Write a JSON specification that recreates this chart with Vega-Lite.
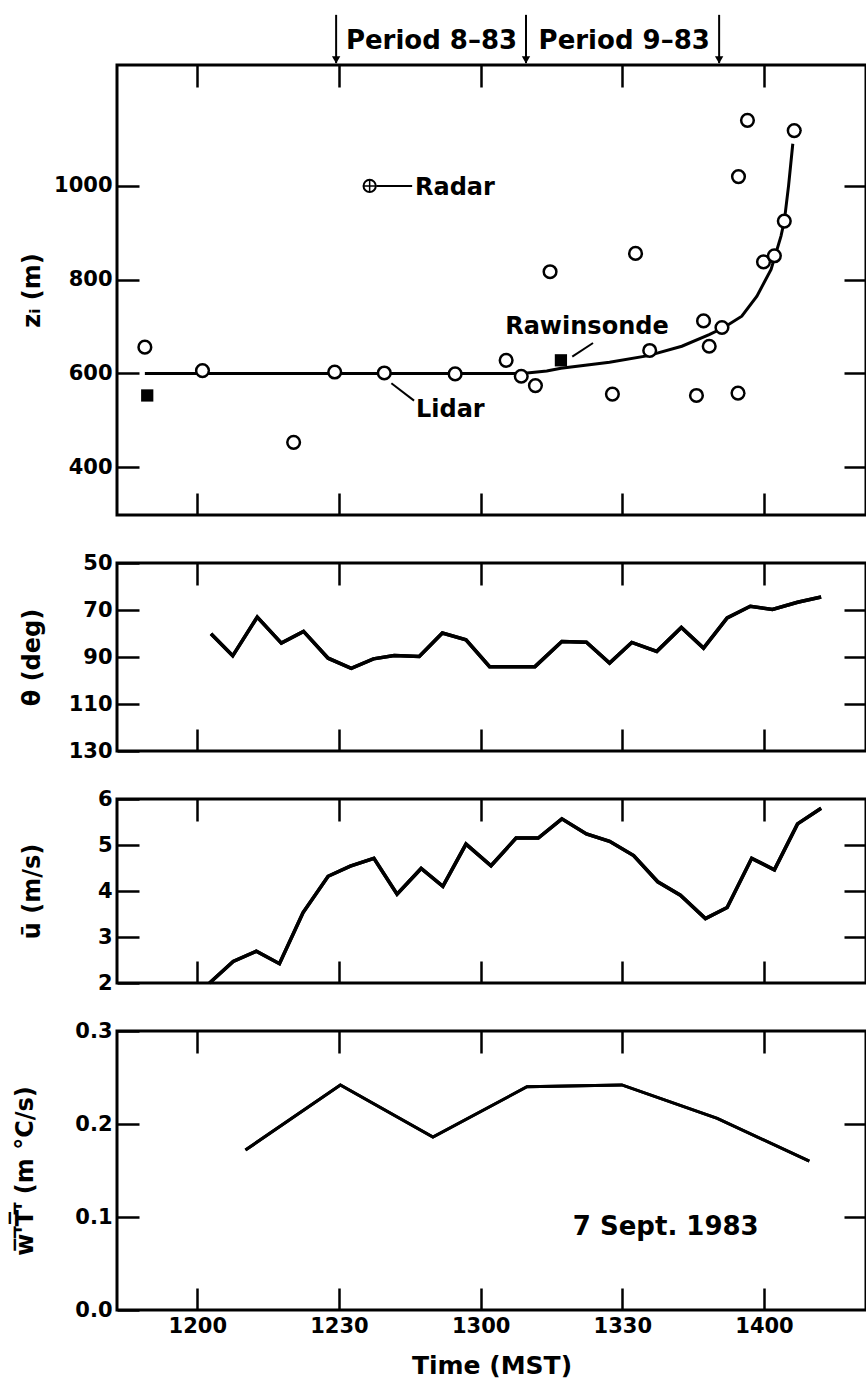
{
  "$schema": "https://vega.github.io/schema/vega-lite/v6.json",
  "padding": {"left": 11, "top": 12, "right": 2, "bottom": 5},
  "background": "white",
  "config": {
    "font": "DejaVu Sans",
    "view": {"stroke": "black", "strokeWidth": 3},
    "axis": {
      "domain": false, "grid": false,
      "tickColor": "black", "tickWidth": 2.5, "tickSize": -22,
      "labelFont": "DejaVu Sans", "labelFontSize": 21, "labelFontWeight": "bold", "labelColor": "black",
      "titleFont": "DejaVu Sans", "titleFontSize": 24, "titleFontWeight": "bold", "titleColor": "black"
    }
  },
  "datasets": {
    "fit": [
      {"t": 708.9, "z": 600}, {"t": 788.8, "z": 600}, {"t": 794, "z": 605}, {"t": 797, "z": 611},
      {"t": 807.3, "z": 624}, {"t": 815.5, "z": 638}, {"t": 822.6, "z": 658}, {"t": 828.4, "z": 683},
      {"t": 831.5, "z": 698}, {"t": 835.3, "z": 722}, {"t": 838.5, "z": 765}, {"t": 841.5, "z": 822},
      {"t": 843.6, "z": 893}, {"t": 844.3, "z": 925}, {"t": 845.2, "z": 1000}, {"t": 846.1, "z": 1090}
    ],
    "lidar": [
      {"t": 708.9, "z": 656}, {"t": 721.1, "z": 606}, {"t": 740.4, "z": 453}, {"t": 749.1, "z": 603},
      {"t": 759.6, "z": 601}, {"t": 774.6, "z": 599}, {"t": 785.4, "z": 628}, {"t": 788.6, "z": 594},
      {"t": 791.6, "z": 574}, {"t": 794.7, "z": 817}, {"t": 807.9, "z": 556}, {"t": 812.8, "z": 856},
      {"t": 815.8, "z": 649}, {"t": 825.7, "z": 553}, {"t": 827.2, "z": 712}, {"t": 828.4, "z": 658},
      {"t": 831.1, "z": 698}, {"t": 834.5, "z": 558}, {"t": 834.6, "z": 1020}, {"t": 836.5, "z": 1140},
      {"t": 839.9, "z": 838}, {"t": 842.2, "z": 851}, {"t": 844.3, "z": 925}, {"t": 846.4, "z": 1118}
    ],
    "raw": [{"t": 709.4, "z": 553}, {"t": 797, "z": 628}],
    "radar": [{"t": 756.5, "z": 1000}],
    "leaders": [
      {"t": 757.9, "t2": 765.5, "z": 1000, "z2": 1000},
      {"t": 761.1, "t2": 765.9, "z": 579, "z2": 542},
      {"t": 803.8, "t2": 799.4, "z": 665, "z2": 636}
    ],
    "notes": [
      {"t": 766.1, "z": 996, "text": "Radar"},
      {"t": 766.3, "z": 523, "text": "Lidar"},
      {"t": 785.2, "z": 699, "text": "Rawinsonde"}
    ],
    "arrows": [{"t": 749.4}, {"t": 789.6}, {"t": 830.5}],
    "periods": [{"t": 769.6, "text": "Period 8–83"}, {"t": 810.4, "text": "Period 9–83"}],
    "theta": [
      {"t": 722.9, "v": 80.1}, {"t": 727.5, "v": 89.5}, {"t": 732.7, "v": 73}, {"t": 737.8, "v": 84.1},
      {"t": 742.5, "v": 79.1}, {"t": 747.7, "v": 90.5}, {"t": 752.6, "v": 94.8}, {"t": 757.3, "v": 90.8},
      {"t": 761.7, "v": 89.4}, {"t": 767, "v": 89.8}, {"t": 771.9, "v": 79.8}, {"t": 776.9, "v": 82.7},
      {"t": 781.9, "v": 94.1}, {"t": 786.9, "v": 94.1}, {"t": 791.5, "v": 94.1}, {"t": 797.2, "v": 83.4},
      {"t": 802.4, "v": 83.7}, {"t": 807.3, "v": 92.6}, {"t": 812, "v": 83.8}, {"t": 817.3, "v": 87.6},
      {"t": 822.5, "v": 77.4}, {"t": 827.2, "v": 86.2}, {"t": 832.2, "v": 73.4}, {"t": 837.1, "v": 68.4},
      {"t": 841.8, "v": 69.8}, {"t": 847.1, "v": 66.7}, {"t": 852.1, "v": 64.5}
    ],
    "u": [
      {"t": 722.6, "v": 2.0}, {"t": 727.6, "v": 2.47}, {"t": 732.5, "v": 2.69}, {"t": 737.4, "v": 2.42},
      {"t": 742.4, "v": 3.53}, {"t": 747.7, "v": 4.32}, {"t": 752.4, "v": 4.54}, {"t": 757.4, "v": 4.71},
      {"t": 762.3, "v": 3.93}, {"t": 767.4, "v": 4.49}, {"t": 772, "v": 4.1}, {"t": 776.9, "v": 5.02},
      {"t": 782.2, "v": 4.55}, {"t": 787.5, "v": 5.15}, {"t": 792.2, "v": 5.15}, {"t": 797.2, "v": 5.57},
      {"t": 802.4, "v": 5.24}, {"t": 807.3, "v": 5.08}, {"t": 812.4, "v": 4.77}, {"t": 817.5, "v": 4.2},
      {"t": 822.3, "v": 3.91}, {"t": 827.6, "v": 3.4}, {"t": 832.2, "v": 3.64}, {"t": 837.4, "v": 4.71},
      {"t": 842.2, "v": 4.46}, {"t": 847.1, "v": 5.46}, {"t": 852.1, "v": 5.8}
    ],
    "wt": [
      {"t": 730.2, "v": 0.172}, {"t": 750.3, "v": 0.242}, {"t": 769.9, "v": 0.186}, {"t": 789.8, "v": 0.24},
      {"t": 809.9, "v": 0.242}, {"t": 830.1, "v": 0.206}, {"t": 849.6, "v": 0.16}
    ],
    "date": [{"t": 819.2, "v": 0.089, "text": "7 Sept. 1983"}]
  },
  "spacing": 48,
  "bounds": "flush",
  "vconcat": [
    {
      "width": 749, "height": 450,
      "resolve": {"axis": {"x": "independent", "y": "independent"}},
      "layer": [
        {
          "data": {"name": "fit"},
          "mark": {"type": "line", "color": "black", "strokeWidth": 3},
          "encoding": {
            "x": {"field": "t", "type": "quantitative", "scale": {"domain": [703, 861.6], "nice": false, "zero": false},
                  "axis": {"orient": "bottom", "values": [720, 750, 780, 810, 840], "labels": false, "title": null}},
            "y": {"field": "z", "type": "quantitative", "scale": {"domain": [298, 1258], "nice": false, "zero": false},
                  "axis": {"orient": "left", "values": [400, 600, 800, 1000], "format": "d", "labelPadding": 27, "title": "zᵢ (m)", "titleX": -85, "titleBaseline": "middle", "titleAngle": 270}}
          }
        },
        {
          "data": {"name": "lidar"},
          "mark": {"type": "point", "shape": "circle", "filled": true, "fill": "white", "stroke": "black", "strokeWidth": 2.5, "size": 160, "opacity": 1},
          "encoding": {
            "x": {"field": "t", "type": "quantitative", "axis": {"orient": "top", "values": [720, 750, 780, 810, 840], "labels": false, "title": null}},
            "y": {"field": "z", "type": "quantitative", "axis": {"orient": "right", "values": [400, 600, 800, 1000], "labels": false, "title": null}}
          }
        },
        {
          "data": {"name": "raw"},
          "mark": {"type": "square", "color": "black", "size": 150, "opacity": 1},
          "encoding": {
            "x": {"field": "t", "type": "quantitative", "axis": null},
            "y": {"field": "z", "type": "quantitative", "axis": null}
          }
        },
        {
          "data": {"name": "radar"},
          "mark": {"type": "point", "shape": "circle", "filled": true, "fill": "white", "stroke": "black", "strokeWidth": 2, "size": 150, "opacity": 1},
          "encoding": {
            "x": {"field": "t", "type": "quantitative", "axis": null},
            "y": {"field": "z", "type": "quantitative", "axis": null}
          }
        },
        {
          "data": {"name": "radar"},
          "mark": {"type": "point", "shape": "M-1,0H1M0,-1V1", "filled": false, "stroke": "black", "strokeWidth": 1.5, "size": 150, "opacity": 1},
          "encoding": {
            "x": {"field": "t", "type": "quantitative", "axis": null},
            "y": {"field": "z", "type": "quantitative", "axis": null}
          }
        },
        {
          "data": {"name": "leaders"},
          "mark": {"type": "rule", "color": "black", "strokeWidth": 2},
          "encoding": {
            "x": {"field": "t", "type": "quantitative", "axis": null},
            "x2": {"field": "t2"},
            "y": {"field": "z", "type": "quantitative", "axis": null},
            "y2": {"field": "z2"}
          }
        },
        {
          "data": {"name": "notes"},
          "mark": {"type": "text", "align": "left", "baseline": "middle", "font": "DejaVu Sans", "fontSize": 24, "fontWeight": "bold", "color": "black"},
          "encoding": {
            "x": {"field": "t", "type": "quantitative", "axis": null},
            "y": {"field": "z", "type": "quantitative", "axis": null},
            "text": {"field": "text"}
          }
        },
        {
          "data": {"name": "arrows"},
          "mark": {"type": "rule", "color": "black", "strokeWidth": 2},
          "encoding": {
            "x": {"field": "t", "type": "quantitative", "axis": null},
            "y": {"datum": 1365, "type": "quantitative", "axis": null},
            "y2": {"datum": 1262}
          }
        },
        {
          "data": {"name": "arrows"},
          "mark": {"type": "point", "shape": "triangle-down", "filled": true, "color": "black", "size": 70, "opacity": 1},
          "encoding": {
            "x": {"field": "t", "type": "quantitative", "axis": null},
            "y": {"datum": 1269, "type": "quantitative", "axis": null}
          }
        },
        {
          "data": {"name": "periods"},
          "mark": {"type": "text", "align": "center", "baseline": "middle", "font": "DejaVu Sans", "fontSize": 26, "fontWeight": "bold", "color": "black"},
          "encoding": {
            "x": {"field": "t", "type": "quantitative", "axis": null},
            "y": {"datum": 1310, "type": "quantitative", "axis": null},
            "text": {"field": "text"}
          }
        }
      ]
    },
    {
      "width": 749, "height": 188,
      "data": {"name": "theta"},
      "resolve": {"axis": {"x": "independent", "y": "independent"}},
      "layer": [
        {
          "mark": {"type": "line", "color": "black", "strokeWidth": 3.5},
          "encoding": {
            "x": {"field": "t", "type": "quantitative", "scale": {"domain": [703, 861.6], "nice": false, "zero": false},
                  "axis": {"orient": "bottom", "values": [720, 750, 780, 810, 840], "labels": false, "title": null}},
            "y": {"field": "v", "type": "quantitative", "scale": {"domain": [50, 130], "reverse": true, "nice": false, "zero": false},
                  "axis": {"orient": "left", "values": [50, 70, 90, 110, 130], "labelPadding": 27, "title": "θ   (deg)", "titleX": -85, "titleBaseline": "middle", "titleAngle": 270}}
          }
        },
        {
          "mark": {"type": "line", "color": "black", "strokeWidth": 3.5},
          "encoding": {
            "x": {"field": "t", "type": "quantitative", "axis": {"orient": "top", "values": [720, 750, 780, 810, 840], "labels": false, "title": null}},
            "y": {"field": "v", "type": "quantitative", "axis": {"orient": "right", "values": [70, 90, 110], "labels": false, "title": null}}
          }
        }
      ]
    },
    {
      "width": 749, "height": 184,
      "data": {"name": "u"},
      "resolve": {"axis": {"x": "independent", "y": "independent"}},
      "layer": [
        {
          "mark": {"type": "line", "color": "black", "strokeWidth": 3.5},
          "encoding": {
            "x": {"field": "t", "type": "quantitative", "scale": {"domain": [703, 861.6], "nice": false, "zero": false},
                  "axis": {"orient": "bottom", "values": [720, 750, 780, 810, 840], "labels": false, "title": null}},
            "y": {"field": "v", "type": "quantitative", "scale": {"domain": [2, 6], "nice": false, "zero": false},
                  "axis": {"orient": "left", "values": [2, 3, 4, 5, 6], "labelPadding": 27, "title": "ū (m/s)", "titleX": -85, "titleBaseline": "middle", "titleAngle": 270}}
          }
        },
        {
          "mark": {"type": "line", "color": "black", "strokeWidth": 3.5},
          "encoding": {
            "x": {"field": "t", "type": "quantitative", "axis": {"orient": "top", "values": [720, 750, 780, 810, 840], "labels": false, "title": null}},
            "y": {"field": "v", "type": "quantitative", "axis": {"orient": "right", "values": [3, 4, 5], "labels": false, "title": null}}
          }
        }
      ]
    },
    {
      "width": 749, "height": 279,
      "resolve": {"axis": {"x": "independent", "y": "independent"}},
      "layer": [
        {
          "data": {"name": "wt"},
          "mark": {"type": "line", "color": "black", "strokeWidth": 3},
          "encoding": {
            "x": {"field": "t", "type": "quantitative", "scale": {"domain": [703, 861.6], "nice": false, "zero": false},
                  "axis": {"orient": "bottom", "values": [720, 750, 780, 810, 840], "labelPadding": 27,
                           "labelExpr": "'' + (floor(datum.value / 60) * 100 + datum.value % 60)",
                           "title": "Time (MST)", "titleFontSize": 25, "titleY": 55, "titleBaseline": "middle"}},
            "y": {"field": "v", "type": "quantitative", "scale": {"domain": [0, 0.3], "nice": false, "zero": false},
                  "axis": {"orient": "left", "values": [0, 0.1, 0.2, 0.3], "format": ".1f", "labelPadding": 27, "title": "w̅'̅T̅'̅ (m °C/s)", "titleX": -92, "titleBaseline": "middle", "titleAngle": 270}}
          }
        },
        {
          "data": {"name": "wt"},
          "mark": {"type": "line", "color": "black", "strokeWidth": 3},
          "encoding": {
            "x": {"field": "t", "type": "quantitative", "axis": {"orient": "top", "values": [720, 750, 780, 810, 840], "labels": false, "title": null}},
            "y": {"field": "v", "type": "quantitative", "axis": {"orient": "right", "values": [0.1, 0.2], "labels": false, "title": null}}
          }
        },
        {
          "data": {"name": "date"},
          "mark": {"type": "text", "align": "center", "baseline": "middle", "font": "DejaVu Sans", "fontSize": 26, "fontWeight": "bold", "color": "black"},
          "encoding": {
            "x": {"field": "t", "type": "quantitative", "axis": null},
            "y": {"field": "v", "type": "quantitative", "axis": null},
            "text": {"field": "text"}
          }
        }
      ]
    }
  ]
}
